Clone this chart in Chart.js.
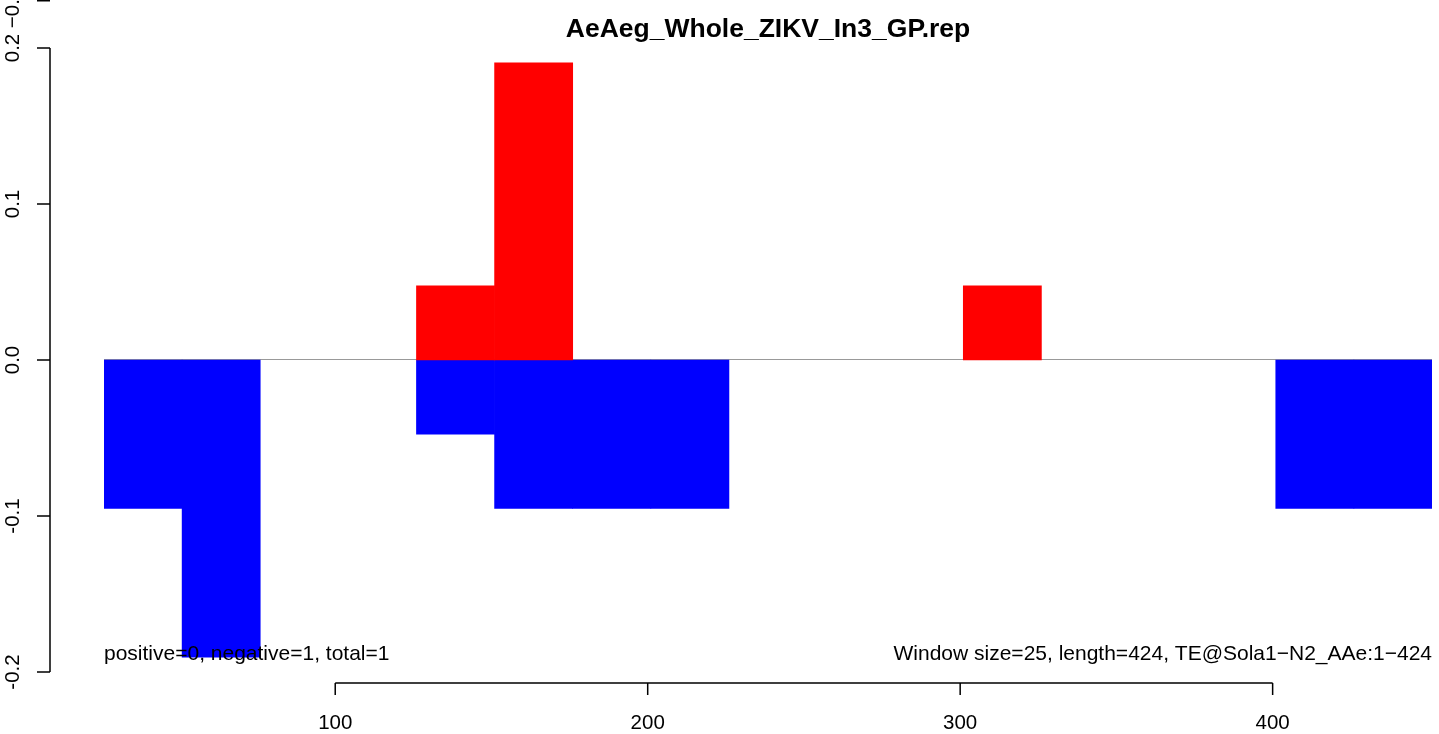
<!DOCTYPE html>
<html>
<head>
<meta charset="utf-8">
<title>AeAeg_Whole_ZIKV_In3_GP.rep</title>
<script src="https://cdn.jsdelivr.net/npm/chart.js@4/dist/chart.umd.min.js"></script>
<style>
  html, body { margin: 0; padding: 0; background: #ffffff; }
  #myChart { display: block; }
</style>
</head>
<body>
<canvas id="myChart" width="1439" height="734"></canvas>
<script>
// window starts (size 25), values per window
var windowSize = 25;
var windowStarts = [26, 51, 76, 101, 126, 151, 176, 201, 226, 251, 276, 301, 326, 351, 376, 401, 426];
var positiveValues = [0, 0, 0, 0, 0.0476, 0.1905, 0, 0, 0, 0, 0, 0.0476, 0, 0, 0, 0, 0];
var negativeValues = [-0.0952, -0.1905, 0, 0, -0.0476, -0.0952, -0.0952, -0.0952, 0, 0, 0, 0, 0, 0, 0, -0.0952, -0.0952];
var xTicks = [100, 200, 300, 400];
var yTicks = [-0.2, -0.1, 0.0, 0.1, 0.2];
var yTickLabels = ['-0.2', '-0.1', '0.0', '0.1', '0.2'];

var titleText = 'AeAeg_Whole_ZIKV_In3_GP.rep';
var leftNote = 'positive=0, negative=1, total=1';
var rightNote = 'Window size=25, length=424, TE@Sola1\u2212N2_AAe:1\u2212424';

var fontFamily = '"Liberation Sans", Arial, Helvetica, sans-serif';

// empty windows get no bar at all
function noZero(v) {
    return v === 0 ? null : v;
}

// R style axes, title and notes
var rPlot = {
    id: 'rPlot',
    beforeDatasetsDraw: function (chart) {
        var ctx = chart.ctx;
        var x = chart.scales.xv;
        var y = chart.scales.y;
        var y0 = y.getPixelForValue(0);
        ctx.save();
        ctx.strokeStyle = '#999999';
        ctx.lineWidth = 1;
        ctx.beginPath();
        ctx.moveTo(x.getPixelForValue(windowStarts[0]), y0 - 0.5);
        ctx.lineTo(x.getPixelForValue(windowStarts[windowStarts.length - 1] + windowSize), y0 - 0.5);
        ctx.stroke();
        ctx.restore();
    },
    afterDraw: function (chart) {
        var ctx = chart.ctx;
        var x = chart.scales.xv;
        var y = chart.scales.y;
        var area = chart.chartArea;
        ctx.save();
        ctx.strokeStyle = '#000000';
        ctx.fillStyle = '#000000';
        ctx.lineWidth = 1.5;

        // x axis
        var xAxisY = 683;
        ctx.beginPath();
        ctx.moveTo(x.getPixelForValue(xTicks[0]), xAxisY);
        ctx.lineTo(x.getPixelForValue(xTicks[xTicks.length - 1]), xAxisY);
        xTicks.forEach(function (t) {
            var px = x.getPixelForValue(t);
            ctx.moveTo(px, xAxisY);
            ctx.lineTo(px, xAxisY + 12);
        });
        ctx.stroke();
        ctx.font = '20.5px ' + fontFamily;
        ctx.textAlign = 'center';
        ctx.textBaseline = 'alphabetic';
        xTicks.forEach(function (t) {
            ctx.fillText(String(t), x.getPixelForValue(t), 729);
        });

        // y axis
        var yAxisX = 50;
        ctx.beginPath();
        ctx.moveTo(yAxisX, y.getPixelForValue(yTicks[0]));
        ctx.lineTo(yAxisX, y.getPixelForValue(yTicks[yTicks.length - 1]));
        yTicks.forEach(function (t) {
            var py = y.getPixelForValue(t);
            ctx.moveTo(yAxisX, py);
            ctx.lineTo(yAxisX - 13, py);
        });
        ctx.moveTo(yAxisX, 0.75);
        ctx.lineTo(yAxisX - 13, 0.75);
        ctx.stroke();
        ctx.textBaseline = 'middle';
        yTicks.forEach(function (t, i) {
            ctx.save();
            ctx.translate(13, y.getPixelForValue(t));
            ctx.rotate(-Math.PI / 2);
            ctx.fillText(yTickLabels[i], 0, 0);
            ctx.restore();
        });
        ctx.save();
        ctx.translate(13, 8);
        ctx.rotate(-Math.PI / 2);
        ctx.fillText('\u22120.2', 0, 0);
        ctx.restore();

        // notes
        ctx.font = '21px ' + fontFamily;
        ctx.textBaseline = 'alphabetic';
        ctx.textAlign = 'left';
        ctx.fillText(leftNote, area.left, 660);
        ctx.textAlign = 'right';
        ctx.fillText(rightNote, area.right, 660);

        // title
        ctx.font = 'bold 26.5px ' + fontFamily;
        ctx.textAlign = 'center';
        ctx.fillText(titleText, (area.left + area.right) / 2, 37);
        ctx.restore();
    }
};

var ctx = document.getElementById('myChart').getContext('2d');
window.myChart = new Chart(ctx, {
    type: 'bar',
    data: {
        labels: windowStarts.map(String),
        datasets: [
            {
                label: 'positive',
                data: positiveValues.map(noZero),
                backgroundColor: '#ff0000',
                borderWidth: 0,
                grouped: false,
                barPercentage: 1,
                categoryPercentage: 1
            },
            {
                label: 'negative',
                data: negativeValues.map(noZero),
                backgroundColor: '#0000ff',
                borderWidth: 0,
                grouped: false,
                barPercentage: 1,
                categoryPercentage: 1
            }
        ]
    },
    options: {
        responsive: false,
        animation: false,
        layout: { padding: { left: 104, right: 7, top: 48, bottom: 62 } },
        plugins: {
            legend: { display: false },
            title: { display: false },
            tooltip: { enabled: false }
        },
        scales: {
            x: { display: false, offset: true },
            xv: {
                type: 'linear',
                display: false,
                offset: false,
                grid: { offset: false },
                min: windowStarts[0],
                max: windowStarts[windowStarts.length - 1] + windowSize
            },
            y: { display: false, min: -0.2, max: 0.2 }
        }
    },
    plugins: [rPlot]
});
</script>
</body>
</html>
